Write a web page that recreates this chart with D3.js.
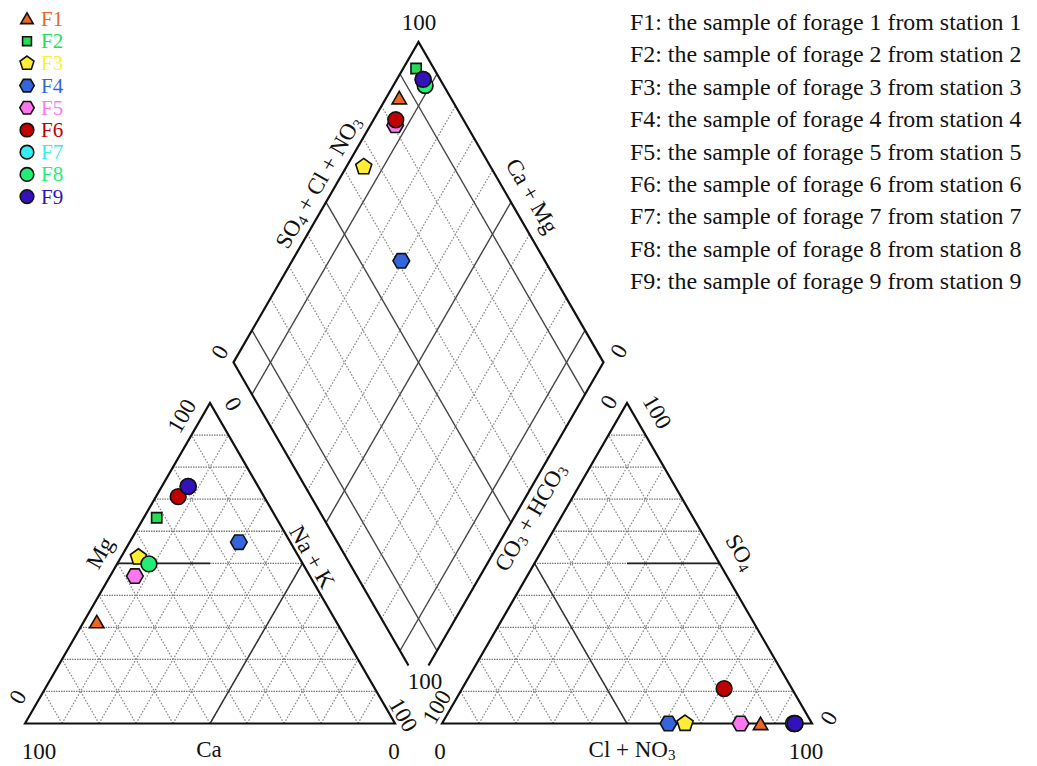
<!DOCTYPE html>
<html lang="en">
<head>
<meta charset="utf-8">
<title>Piper diagram</title>
<script src="https://d3js.org/d3.v7.min.js"></script>
<style>
  body { margin: 0; background: #fff; }
  svg { display: block; font-family: "Liberation Serif", "Times New Roman", serif; }
</style>
</head>
<body>
<div id="chart"></div>
<script>
// sample names, colours and marker shapes
var samples = ["F1", "F2", "F3", "F4", "F5", "F6", "F7", "F8", "F9"];
var colors  = ["#ee6622", "#22dd55", "#ffee33", "#3366dd", "#ff77ee", "#c00000", "#33eeee", "#22ee77", "#3311bb"];
var shapes  = ["triangle", "square", "pentagon", "hexagon", "hexagon", "circle", "circle", "circle", "circle"];

// cations (% meq)
var mg = [31.8, 64.2, 51.9, 56.6, 46.0, 70.8, 74.0, 49.8, 74.0];
var na = [3.5, 3.5, 4.7, 29.5, 6.7, 6.0, 7.1, 8.6, 7.1];
// anions (% meq)
var so4 = [0, 0, 0, 0, 0, 10.9, 0, 0, 0];
var cl  = [86.1, 95.2, 65.7, 61.2, 80.7, 70.8, 95.4, 95.0, 95.4];

var legendText = samples.map(function(s, i) {
  return s + ": the sample of forage " + (i + 1) + " from station " + (i + 1);
});
var gridSteps = [10, 20, 30, 40, 50, 60, 70, 80, 90];
var solidSteps = [10, 50, 90];

var width = 1037, height = 766;
var svg = d3.select("#chart").append("svg")
    .attr("width", width)
    .attr("height", height);

// geometry
var SQ = Math.sqrt(3) / 2;
var L = 370, base = 723.5;
var catX0 = 25, anX0 = 442;
var side = d3.scaleLinear().domain([0, 100]).range([0, L]);
var gap = anX0 - catX0 - L;
var db = [catX0 + L + gap / 2, base - gap * SQ];   // bottom corner of the diamond

function catPt(m, n) { return [catX0 + side(n) + side(m) / 2, base - side(m) * SQ]; }
function anPt(s, c) { return [anX0 + side(c) + side(s) / 2, base - side(s) * SQ]; }
function diaPt(n, a) {
  var u = side(100 - n), v = side(a);
  return [db[0] - u / 2 + v / 2, db[1] - (u + v) * SQ];
}

var line = d3.line();
var grid = svg.append("g");

function dotted(p1, p2, horiz) {
  grid.append("path")
    .attr("d", line([p1, p2]))
    .attr("fill", "none")
    .attr("stroke", horiz ? "#7a7a7a" : "#888")
    .attr("stroke-width", horiz ? 1.3 : 1.2)
    .attr("stroke-dasharray", horiz ? "1.5,1" : "1.6,1.6");
}
function solid(p1, p2, w, c) {
  grid.append("path")
    .attr("d", line([p1, p2]))
    .attr("fill", "none")
    .attr("stroke", c || "#333")
    .attr("stroke-width", w || 1.4);
}

// triangle grids
gridSteps.forEach(function(k) {
  dotted(catPt(k, 0), catPt(k, 100 - k), true);
  dotted(catPt(0, k), catPt(100 - k, k));
  dotted(catPt(0, 100 - k), catPt(100 - k, 0));
  dotted(anPt(k, 0), anPt(k, 100 - k), true);
  dotted(anPt(0, k), anPt(100 - k, k));
  dotted(anPt(0, 100 - k), anPt(100 - k, 0));
});

// diamond grid
gridSteps.forEach(function(k) {
  if (solidSteps.indexOf(k) >= 0) {
    solid(diaPt(k, 0), diaPt(k, 100), 1.4, "#444");
    solid(diaPt(0, k), diaPt(100, k), 1.4, "#444");
  } else {
    dotted(diaPt(k, 0), diaPt(k, 100));
    dotted(diaPt(0, k), diaPt(100, k));
  }
});

// sub-division lines
solid(catPt(50, 0), catPt(50, 25), 1.8, "#222");
solid(catPt(0, 50), catPt(50, 50), 1.5, "#333");
solid(anPt(50, 25), anPt(50, 50), 1.8, "#222");
solid(anPt(0, 50), anPt(50, 0), 1.5, "#333");

// outlines
var outline = svg.append("g")
    .attr("fill", "none")
    .attr("stroke", "#111")
    .attr("stroke-width", 2.2)
    .attr("stroke-linejoin", "miter");
outline.append("path").attr("d", line([catPt(0, 0), catPt(100, 0), catPt(0, 100)]) + "Z");
outline.append("path").attr("d", line([anPt(0, 0), anPt(100, 0), anPt(0, 100)]) + "Z");
outline.append("path").attr("d", line([diaPt(100, 5.4), diaPt(100, 100), diaPt(0, 100), diaPt(0, 0), diaPt(94.6, 0)]));

// marker symbols
function polygon(nSides, rot) {
  return {
    draw: function(ctx, size) {
      var r = Math.sqrt(size / (nSides * Math.sin(2 * Math.PI / nSides) / 2));
      for (var i = 0; i < nSides; i++) {
        var t = rot + i * 2 * Math.PI / nSides;
        if (i === 0) ctx.moveTo(r * Math.cos(t), r * Math.sin(t));
        else ctx.lineTo(r * Math.cos(t), r * Math.sin(t));
      }
      ctx.closePath();
    }
  };
}
var symbolTypes = {
  triangle: d3.symbolTriangle,
  square: d3.symbolSquare,
  pentagon: polygon(5, -Math.PI / 2),
  hexagon: polygon(6, 0),
  circle: d3.symbolCircle
};
var symbolSizes = { triangle: 90, square: 105, pentagon: 170, hexagon: 180, circle: 195 };

function marker(g, i, x, y, k) {
  g.append("path")
    .attr("d", d3.symbol().type(symbolTypes[shapes[i]]).size(symbolSizes[shapes[i]] * (k || 1))())
    .attr("transform", "translate(" + x + "," + y + ")")
    .attr("fill", colors[i])
    .attr("stroke", "#111")
    .attr("stroke-width", 1.6);
}

var pts = svg.append("g");
samples.forEach(function(s, i) {
  var dy = shapes[i] === "triangle" ? 2 : 0;
  var c = catPt(mg[i], na[i]);
  marker(pts, i, c[0], c[1] + dy);
  var a = anPt(so4[i], cl[i]);
  marker(pts, i, a[0], a[1] + dy);
  var d = diaPt(na[i], so4[i] + cl[i]);
  marker(pts, i, d[0], d[1] + dy);
});

// labels
var fs = 23;
var labels = svg.append("g").attr("fill", "#111").attr("font-size", fs);
function label(txt, x, y, rot, sub) {
  var t = labels.append("text")
    .attr("transform", "translate(" + x + "," + y + ") rotate(" + (rot || 0) + ")")
    .attr("text-anchor", "middle")
    .attr("dominant-baseline", "central");
  if (!sub) { t.text(txt); return t; }
  // txt is a list of [text, isSubscript, backFromSubscript]
  txt.forEach(function(p) {
    t.append("tspan")
      .attr("font-size", p[1] ? 15 : fs)
      .attr("dy", p[1] ? 6 : (p[2] ? -6 : 0))
      .text(p[0]);
  });
  return t;
}

// cation triangle
label("100", 182, 416, -60);
label("Mg", 100, 553, -60);
label("0", 18, 697, -60);
label("100", 39, 751, 0);
label("Ca", 209, 749, 0);
label("0", 394, 751, 0);
label("Na + K", 312, 557, 60);
label("0", 233, 404, 60);
label("100", 403, 715, 60);

// diamond
label("100", 419, 22, 0);
label([["SO", 0], ["4", 1], [" + Cl + NO", 0, 1], ["3", 1]], 318, 182, -60, true);
label("Ca + Mg", 532, 196, 60);
label("0", 220, 352, -60);
label("0", 619, 351, -60);
label("100", 425, 681, 0);

// anion triangle
label("0", 609, 402, -60);
label("100", 657, 412, 60);
label([["CO", 0], ["3", 1], [" + HCO", 0, 1], ["3", 1]], 530, 517, -60, true);
label([["SO", 0], ["4", 1]], 741, 552, 60, true);
label("0", 829, 718, -60);
label("100", 437, 707, -60);
label("0", 440, 751, 0);
label([["Cl + NO", 0], ["3", 1]], 632, 749, 0, true);
label("100", 806, 751, 0);

// legend (markers)
var leg = svg.append("g");
samples.forEach(function(s, i) {
  var y = 19 + i * 22.2;
  marker(leg, i, 27, y + (shapes[i] === "triangle" ? 1 : 0), 0.75);
  leg.append("text")
    .attr("x", 41).attr("y", y)
    .attr("dominant-baseline", "central")
    .attr("font-size", 21)
    .attr("fill", colors[i])
    .text(s);
});

// legend (descriptions)
svg.append("g").selectAll("text")
  .data(legendText)
  .enter().append("text")
    .attr("x", 630)
    .attr("y", function(d, i) { return 22 + i * 32.4; })
    .attr("dominant-baseline", "central")
    .attr("font-size", 23.9)
    .attr("fill", "#111")
    .text(function(d) { return d; });
</script>
</body>
</html>
